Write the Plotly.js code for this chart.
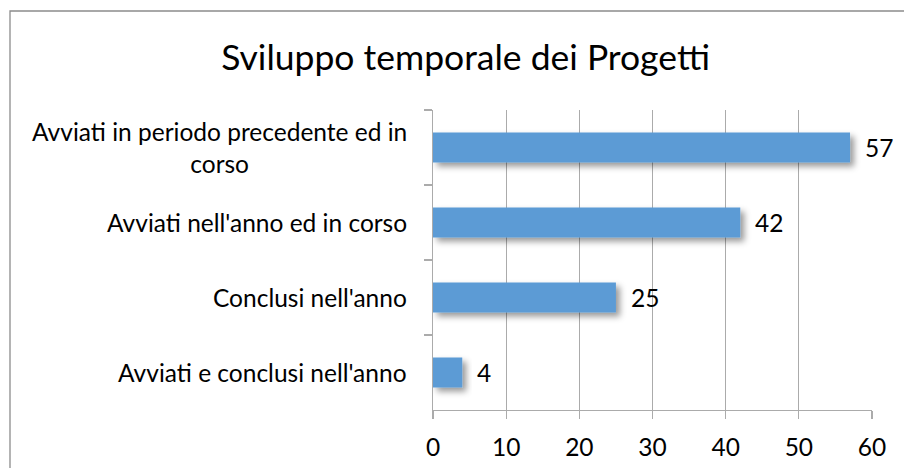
<!DOCTYPE html>
<html>
<head>
<meta charset="utf-8">
<script src="https://cdn.plot.ly/plotly-3.0.1.min.js"></script>
<style>
	html, body { margin: 0; padding: 0; background: #fff; }
	#plot { width: 904px; height: 468px; }
</style>
</head>
<body>
<div id="plot"></div>
<script>
var categories = [
	'Avviati in periodo precedente ed in<br>corso',
	"Avviati nell'anno ed in corso",
	"Conclusi nell'anno",
	"Avviati e conclusi nell'anno"
];
var values = [57, 42, 25, 4];
var xTicks = [0, 10, 20, 30, 40, 50, 60];

var FONT = 'Lato, "Open Sans", sans-serif';
var GRID = '#ABABAB';
var LABEL_SIZE = 24.5;

// category keys without the line break, used for the axis
var keys = categories.map(c => c.replace('<br>', ' '));

var data = [{
	type: 'bar',
	orientation: 'h',
	x: values,
	y: keys,
	width: 0.4,
	marker: { color: '#5B9BD5', line: { width: 0 } },
	hoverinfo: 'none'
}];

var annotations = [];
// y labels, centred like Excel wraps them
keys.forEach((k, i) => {
	annotations.push({
		xref: 'paper', yref: 'y',
		x: 0, y: k,
		xanchor: 'right', yanchor: 'middle',
		xshift: -24,
		align: 'center',
		showarrow: false,
		text: categories[i],
		font: { family: FONT, size: LABEL_SIZE, color: '#000' }
	});
});
// value labels
values.forEach((v, i) => {
	annotations.push({
		xref: 'x', yref: 'y',
		x: v, y: keys[i],
		xanchor: 'left', yanchor: 'middle',
		xshift: 13,
		showarrow: false,
		text: String(v),
		font: { family: FONT, size: LABEL_SIZE, color: '#000' }
	});
});

var layout = {
	width: 904,
	height: 468,
	margin: { l: 433, r: 32, t: 110, b: 58 },
	paper_bgcolor: '#fff',
	plot_bgcolor: '#fff',
	showlegend: false,
	title: {
		text: 'Sviluppo temporale dei Progetti',
		font: { family: FONT, size: 35.5, color: '#000' },
		x: 0.515, xanchor: 'center',
		y: 0.877, yanchor: 'middle'
	},
	xaxis: {
		range: [0, 60],
		tickvals: xTicks,
		ticktext: xTicks.map(String),
		showgrid: true,
		gridcolor: GRID,
		gridwidth: 1.3,
		showline: true,
		linecolor: GRID,
		linewidth: 1.3,
		ticks: 'outside',
		ticklen: 8,
		tickcolor: GRID,
		tickwidth: 1.3,
		ticklabelstandoff: 7,
		zeroline: false,
		fixedrange: true,
		tickfont: { family: FONT, size: LABEL_SIZE, color: '#000' }
	},
	yaxis: {
		type: 'category',
		categoryorder: 'array',
		categoryarray: keys,
		autorange: 'reversed',
		tickson: 'boundaries',
		ticks: 'outside',
		ticklen: 8,
		tickcolor: GRID,
		tickwidth: 1.3,
		showgrid: false,
		showline: true,
		linecolor: GRID,
		linewidth: 1.3,
		showticklabels: false,
		zeroline: false,
		fixedrange: true
	},
	annotations: annotations,
	shapes: [{
		type: 'rect',
		xref: 'paper', yref: 'paper',
		x0: (10 - 433) / 439, x1: 1.2,
		y0: -0.3, y1: (410 - 11) / 300,
		line: { color: '#8C8C8C', width: 1.3 },
		fillcolor: 'rgba(0,0,0,0)',
		layer: 'above'
	}]
};

Plotly.newPlot('plot', data, layout, { displayModeBar: false, staticPlot: true }).then(gd => {
	// soft drop shadow under the bars, like the Excel chart
	var svg = gd.querySelector('svg.main-svg');
	var ns = 'http://www.w3.org/2000/svg';
	var defs = svg.querySelector('defs') || svg.insertBefore(document.createElementNS(ns, 'defs'), svg.firstChild);
	var f = document.createElementNS(ns, 'filter');
		f.setAttribute('id', 'barshadow');
		f.setAttribute('x', '-20%');
		f.setAttribute('y', '-50%');
		f.setAttribute('width', '150%');
		f.setAttribute('height', '200%');
	var ds = document.createElementNS(ns, 'feDropShadow');
		ds.setAttribute('dx', '4');
		ds.setAttribute('dy', '4');
		ds.setAttribute('stdDeviation', '3');
		ds.setAttribute('flood-color', '#000');
		ds.setAttribute('flood-opacity', '0.4');
	f.appendChild(ds);
	defs.appendChild(f);
	gd.querySelectorAll('.barlayer .point path').forEach(p => {
		p.setAttribute('filter', 'url(#barshadow)');
	});
});
</script>
</body>
</html>
